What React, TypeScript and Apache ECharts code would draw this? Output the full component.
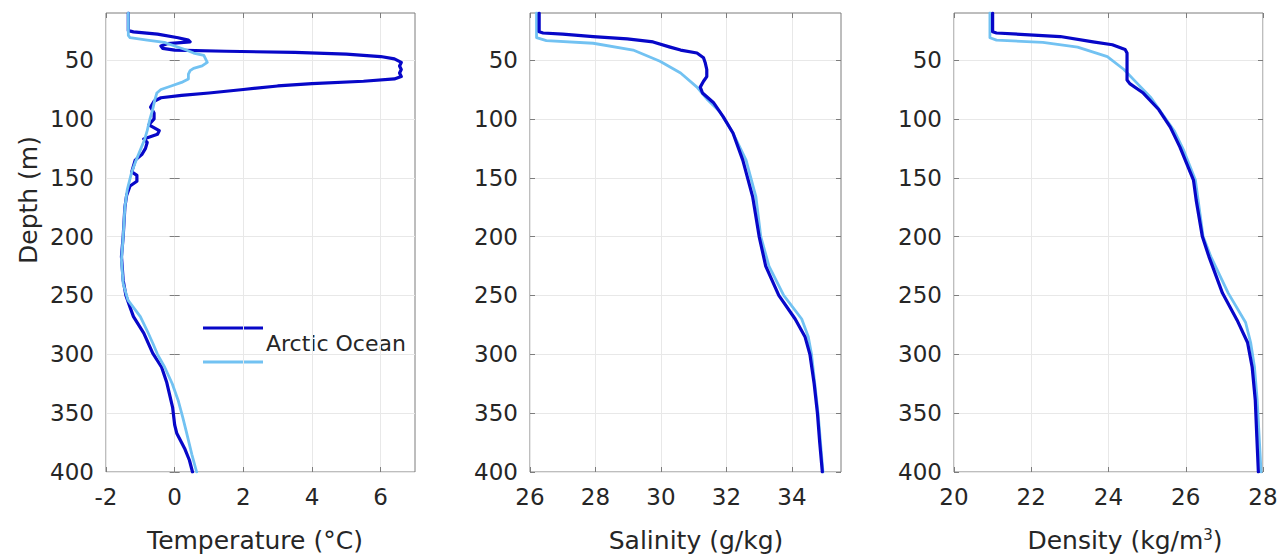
import React, { useEffect, useRef } from "react";
import * as echarts from "echarts";

// ---------- data ----------
const DEPTH_TICKS = [50, 100, 150, 200, 250, 300, 350, 400];
const TEMP_TICKS = [-2, 0, 2, 4, 6];
const SAL_TICKS = [26, 28, 30, 32, 34];
const DENS_TICKS = [20, 22, 24, 26, 28];

const tempDarkDepth = [10, 25, 26, 28, 31, 33, 34.5, 36, 38, 40, 41.5, 42.5, 43.5, 45, 47, 49, 52, 55, 58, 61, 64, 66, 68, 70, 72, 75, 78, 80, 82, 85, 90, 95, 100, 105, 110, 113, 117, 120, 125, 130, 135, 140, 145, 148, 153, 157, 165, 175, 200, 217, 237, 250, 260, 268, 282, 299, 311, 324, 345, 360, 367, 375, 380, 390, 400];
const tempDarkValue = [-1.35, -1.35, -1.2, -0.5, 0.1, 0.4, 0.45, -0.2, -0.4, -0.35, 0.0, 1.5, 3.5, 5.0, 6.0, 6.4, 6.6, 6.55, 6.6, 6.55, 6.6, 6.4, 5.5, 4.0, 3.0, 2.0, 1.0, 0.2, -0.4, -0.6, -0.7, -0.6, -0.6, -0.75, -0.45, -0.5, -0.9, -0.8, -0.85, -0.95, -1.15, -1.2, -1.25, -1.1, -1.1, -1.3, -1.4, -1.45, -1.5, -1.55, -1.5, -1.42, -1.3, -1.2, -0.9, -0.64, -0.38, -0.23, -0.06, 0.0, 0.06, 0.2, 0.29, 0.43, 0.52];

const tempLightDepth = [10, 29, 31, 33, 35, 38, 41, 44, 46, 49, 52, 55, 57, 59, 62, 66, 69, 72, 75, 78, 84, 92, 100, 110, 117, 125, 135, 145, 160, 175, 200, 220, 240, 254, 268, 280, 291, 300, 311, 325, 339, 353, 367, 385, 400];
const tempLightValue = [-1.35, -1.35, -1.3, -0.8, -0.3, 0.0, 0.3, 0.55, 0.85, 0.9, 0.95, 0.8, 0.55, 0.45, 0.4, 0.4, 0.2, -0.1, -0.4, -0.52, -0.58, -0.64, -0.72, -0.8, -0.87, -0.98, -1.12, -1.25, -1.38, -1.45, -1.5, -1.55, -1.5, -1.36, -1.0, -0.8, -0.63, -0.5, -0.29, -0.07, 0.1, 0.23, 0.35, 0.5, 0.64];

const salDarkDepth = [10, 26, 27, 28, 30, 32, 34.6, 39, 41.5, 44, 48, 52, 58, 64, 68, 73, 78, 86, 98, 112, 135, 166, 200, 225, 250, 270, 285, 300, 325, 350, 375, 400];
const salDarkValue = [26.28, 26.28, 26.4, 27.0, 27.93, 28.97, 29.76, 30.28, 30.6, 31.1, 31.3, 31.35, 31.4, 31.4, 31.3, 31.2, 31.27, 31.6, 31.9, 32.2, 32.5, 32.8, 33.0, 33.2, 33.6, 34.1, 34.4, 34.55, 34.68, 34.78, 34.85, 34.93];

const salLightDepth = [10, 31, 33.5, 35.7, 41.5, 51, 61, 73, 83, 94, 112, 135, 166, 200, 225, 250, 270, 285, 300, 350, 400];
const salLightValue = [26.2, 26.2, 26.5, 27.93, 29.15, 29.97, 30.6, 31.1, 31.4, 31.8, 32.2, 32.6, 32.9, 33.05, 33.3, 33.75, 34.3, 34.5, 34.6, 34.8, 34.95];

const densDarkDepth = [10, 26, 27, 30, 34.6, 37, 41, 44, 67, 70, 78, 92, 107, 124, 152, 169, 200, 217, 248, 271, 290, 311, 339, 370, 400];
const densDarkValue = [21.0, 21.0, 21.1, 22.75, 23.6, 24.1, 24.43, 24.48, 24.48, 24.55, 24.9, 25.3, 25.6, 25.85, 26.2, 26.27, 26.43, 26.6, 26.95, 27.33, 27.6, 27.72, 27.8, 27.84, 27.88];

const densLightDepth = [10, 31, 33, 35, 39, 47, 58, 70, 82, 96, 110, 127, 152, 200, 217, 248, 273, 290, 311, 339, 400];
const densLightValue = [20.93, 20.93, 21.1, 22.3, 23.2, 23.97, 24.4, 24.75, 25.1, 25.4, 25.7, 25.95, 26.25, 26.45, 26.65, 27.1, 27.55, 27.68, 27.78, 27.85, 27.95];

const LEGEND_LABEL = "Arctic Ocean";
const X_TITLES = ["Temperature (°C)", "Salinity (g/kg)", "Density (kg/m{sup|3})"];
const Y_TITLE = "Depth (m)";

// ---------- style ----------
const DARK = "#0707c8";
const LIGHT = "#72c2f2";
const BOX = "#7d7d7d";
const GRIDC = "#e8e8e8";
const TXT = "#262626";
const FONT = "DejaVu Sans";

const pairs = (vals: number[], depths: number[]) => vals.map((v, i) => [v, depths[i]]);

export default function App() {
  const ref = useRef<HTMLDivElement>(null);
  useEffect(() => {
    if (!ref.current) return;
    const chart = echarts.init(ref.current, undefined, { renderer: "svg" });

    const panels = [
      { left: 106, width: 309, min: -2, max: 7, ticks: TEMP_TICKS },
      { left: 530, width: 311, min: 26, max: 35.5, ticks: SAL_TICKS },
      { left: 954, width: 309, min: 20, max: 28, ticks: DENS_TICKS },
    ];
    const top = 13;
    const height = 459;

    const grid: any[] = [];
    const xAxis: any[] = [];
    const yAxis: any[] = [];
    panels.forEach((p, i) => {
      grid.push({ left: p.left, top, width: p.width, height, show: true, borderColor: BOX, borderWidth: 1, backgroundColor: "transparent" });
      xAxis.push({
        gridIndex: i, type: "value", min: p.min, max: p.max, position: "bottom",
        axisLine: { show: false },
        axisTick: { show: true, inside: true, length: 5, lineStyle: { color: BOX }, customValues: p.ticks },
        axisLabel: { customValues: p.ticks, margin: 13, color: TXT, fontSize: 23, fontFamily: FONT },
        splitLine: { show: true, lineStyle: { color: GRIDC, width: 1 } },
      });
      xAxis.push({
        gridIndex: i, type: "value", min: p.min, max: p.max, position: "top",
        axisLine: { show: false },
        axisTick: { show: true, inside: true, length: 5, lineStyle: { color: BOX }, customValues: p.ticks },
        axisLabel: { show: false },
        splitLine: { show: false },
      });
      yAxis.push({
        gridIndex: i, type: "value", min: 10, max: 400, inverse: true, position: "left",
        axisLine: { show: false },
        axisTick: { show: true, inside: true, length: 5, lineStyle: { color: BOX }, customValues: DEPTH_TICKS },
        axisLabel: { customValues: DEPTH_TICKS, margin: 12, color: TXT, fontSize: 23, fontFamily: FONT },
        splitLine: { show: true, lineStyle: { color: GRIDC, width: 1 } },
      });
      yAxis.push({
        gridIndex: i, type: "value", min: 10, max: 400, inverse: true, position: "right",
        axisLine: { show: false },
        axisTick: { show: true, inside: true, length: 5, lineStyle: { color: BOX }, customValues: DEPTH_TICKS },
        axisLabel: { show: false },
        splitLine: { show: false },
      });
    });

    const line = (data: number[][], panel: number, color: string, width: number, z: number) => ({
      type: "line",
      xAxisIndex: panel * 2,
      yAxisIndex: panel * 2,
      data,
      showSymbol: false,
      symbol: "none",
      smooth: false,
      z,
      lineStyle: { color, width, join: "round", cap: "round" },
      silent: true,
    });

    const series = [
      line(pairs(tempDarkValue, tempDarkDepth), 0, DARK, 3.2, 2),
      line(pairs(tempLightValue, tempLightDepth), 0, LIGHT, 2.8, 3),
      line(pairs(salLightValue, salLightDepth), 1, LIGHT, 2.8, 2),
      line(pairs(salDarkValue, salDarkDepth), 1, DARK, 3.2, 3),
      line(pairs(densLightValue, densLightDepth), 2, LIGHT, 2.8, 2),
      line(pairs(densDarkValue, densDarkDepth), 2, DARK, 3.2, 3),
    ];

    const titleStyle = { fill: TXT, fontSize: 25, fontFamily: FONT, align: "center", verticalAlign: "middle" };
    const graphic: any[] = [
      { type: "text", x: 255, y: 540, style: { ...titleStyle, text: X_TITLES[0] } },
      { type: "text", x: 696, y: 540, style: { ...titleStyle, text: X_TITLES[1] } },
      {
        type: "text", x: 1125, y: 540,
        style: {
          ...titleStyle, text: X_TITLES[2],
          rich: { sup: { fontSize: 15, fontFamily: FONT, fill: TXT, verticalAlign: "top", padding: [0, 0, 10, 0] } },
        },
      },
      { type: "text", x: 28, y: 200, rotation: Math.PI / 2, style: { ...titleStyle, text: Y_TITLE } },
      { type: "line", shape: { x1: 203, y1: 328, x2: 263, y2: 328 }, style: { stroke: DARK, lineWidth: 3.2 } },
      { type: "line", shape: { x1: 203, y1: 362, x2: 263, y2: 362 }, style: { stroke: LIGHT, lineWidth: 2.8 } },
      { type: "text", x: 266, y: 343, style: { fill: TXT, fontSize: 22, fontFamily: FONT, align: "left", verticalAlign: "middle", text: LEGEND_LABEL } },
    ];

    chart.setOption({
      animation: false,
      backgroundColor: "#ffffff",
      textStyle: { fontFamily: FONT },
      grid,
      xAxis,
      yAxis,
      series,
      graphic,
    });
    return () => chart.dispose();
  }, []);

  return <div ref={ref} style={{ position: "fixed", left: 0, top: 0, width: 1284, height: 557 }} />;
}
